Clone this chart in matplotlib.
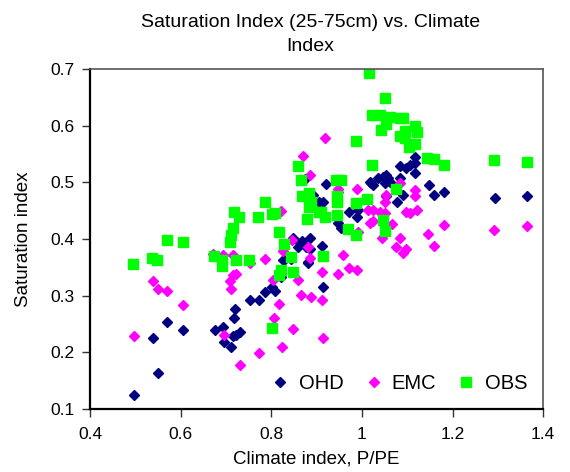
import matplotlib.pyplot as plt
import numpy as np

plt.rcParams['font.family'] = ['Liberation Sans', 'DejaVu Sans']

# OHD series (climate index, saturation index)
ohd_x = [0.497, 0.549, 0.539, 0.570, 0.606, 0.675, 0.694, 0.695, 0.710, 0.716,
         0.723, 0.730, 0.717, 0.720, 0.752, 0.773, 0.787, 0.802, 0.808, 0.822,
         0.827, 0.848, 0.863, 0.885, 0.885, 0.844, 0.880, 0.874, 0.892, 0.905,
         1.118, 1.083, 1.098, 1.105, 1.118, 1.116, 1.046, 1.053, 1.057, 1.050,
         1.061, 1.083, 1.017, 1.024, 0.920, 1.147, 1.160, 1.181, 1.293, 1.365,
         0.913, 1.090, 1.078, 0.971, 0.991, 0.989, 1.052, 0.947, 0.954, 0.868,
         0.877, 0.912, 0.881, 0.915, 1.020, 1.035, 0.859, 0.826]
ohd_y = [0.125, 0.163, 0.225, 0.253, 0.239, 0.239, 0.245, 0.219, 0.210, 0.228,
         0.231, 0.235, 0.261, 0.276, 0.292, 0.292, 0.307, 0.316, 0.309, 0.333,
         0.362, 0.401, 0.392, 0.401, 0.383, 0.364, 0.358, 0.505, 0.478, 0.466,
         0.544, 0.528, 0.525, 0.531, 0.534, 0.516, 0.510, 0.513, 0.507, 0.498,
         0.501, 0.507, 0.501, 0.495, 0.497, 0.496, 0.478, 0.483, 0.472, 0.475,
         0.466, 0.478, 0.466, 0.448, 0.451, 0.438, 0.475, 0.428, 0.419, 0.396,
         0.386, 0.387, 0.360, 0.315, 0.498, 0.507, 0.386, 0.363]

# EMC series
emc_x = [0.497, 0.539, 0.549, 0.570, 0.606, 0.695, 0.694, 0.716, 0.672, 0.716,
         0.723, 0.708, 0.710, 0.730, 0.773, 0.752, 0.787, 0.804, 0.818, 0.806,
         0.824, 0.848, 0.859, 0.866, 0.888, 0.846, 0.881, 0.885, 0.826, 0.870,
         0.885, 0.822, 0.919, 0.947, 0.947, 0.989, 1.053, 1.050, 1.083, 1.118,
         1.118, 1.013, 1.024, 1.039, 1.050, 1.098, 1.105, 1.121, 1.017, 1.024,
         1.067, 1.180, 1.292, 1.365, 1.045, 1.083, 1.145, 0.991, 1.075, 1.090,
         1.098, 1.160, 0.958, 0.912, 0.947, 0.971, 0.989, 0.912, 0.915]
emc_y = [0.228, 0.326, 0.312, 0.309, 0.284, 0.231, 0.372, 0.372, 0.373, 0.336,
         0.339, 0.325, 0.312, 0.178, 0.199, 0.358, 0.364, 0.328, 0.286, 0.260,
         0.209, 0.242, 0.328, 0.301, 0.298, 0.398, 0.386, 0.366, 0.378, 0.547,
         0.513, 0.449, 0.578, 0.489, 0.483, 0.488, 0.478, 0.466, 0.498, 0.487,
         0.476, 0.451, 0.451, 0.448, 0.445, 0.448, 0.445, 0.451, 0.428, 0.431,
         0.426, 0.425, 0.415, 0.422, 0.402, 0.402, 0.408, 0.413, 0.385, 0.375,
         0.382, 0.388, 0.371, 0.341, 0.338, 0.348, 0.345, 0.292, 0.226]

# OBS series
obs_x = [0.495, 0.536, 0.547, 0.569, 0.604, 0.673, 0.692, 0.691, 0.722, 0.750,
         0.708, 0.710, 0.716, 0.718, 0.729, 0.771, 0.785, 0.801, 0.808, 0.816,
         0.827, 0.844, 0.822, 0.818, 0.848, 0.802, 0.858, 0.866, 0.868, 0.883,
         0.887, 0.883, 0.879, 0.905, 1.015, 1.050, 1.023, 1.039, 1.061, 1.083,
         1.090, 1.052, 1.043, 1.116, 1.121, 1.083, 1.096, 1.094, 1.116, 1.103,
         0.987, 1.144, 1.158, 1.180, 1.291, 1.364, 1.023, 0.943, 0.954, 1.075,
         0.946, 0.946, 0.987, 1.012, 0.910, 0.918, 0.946, 1.046, 1.050, 0.970,
         0.987, 0.914]
obs_y = [0.355, 0.366, 0.363, 0.399, 0.394, 0.370, 0.363, 0.352, 0.363, 0.363,
         0.395, 0.407, 0.419, 0.448, 0.439, 0.439, 0.465, 0.444, 0.445, 0.412,
         0.391, 0.369, 0.345, 0.336, 0.341, 0.243, 0.529, 0.504, 0.476, 0.481,
         0.466, 0.457, 0.436, 0.448, 0.693, 0.649, 0.619, 0.619, 0.616, 0.613,
         0.613, 0.603, 0.592, 0.599, 0.588, 0.582, 0.591, 0.578, 0.568, 0.562,
         0.573, 0.542, 0.541, 0.531, 0.539, 0.536, 0.531, 0.504, 0.504, 0.489,
         0.475, 0.466, 0.464, 0.470, 0.448, 0.439, 0.442, 0.433, 0.414, 0.417,
         0.407, 0.370]

x_ticks = [0.4, 0.6, 0.8, 1.0, 1.2, 1.4]
x_labels = ['0.4', '0.6', '0.8', '1', '1.2', '1.4']
y_ticks = [0.1, 0.2, 0.3, 0.4, 0.5, 0.6, 0.7]

fig = plt.figure(figsize=(5.7, 4.72), dpi=100)
ax = fig.add_axes([0.158, 0.1335, 0.795, 0.7205])

ax.plot(ohd_x, ohd_y, 'D', color='#000080', ms=5.5, mec='#000080', label='OHD')
ax.plot(emc_x, emc_y, 'D', color='#FF00FF', ms=5.5, mec='#FF00FF', label='EMC')
ax.plot(obs_x, obs_y, 's', color='#00FF00', ms=6.5, mec='#00FF00', label='OBS')

ax.set_xlim(0.4, 1.4)
ax.set_ylim(0.1, 0.7)
ax.set_xticks(x_ticks)
ax.set_xticklabels(x_labels)
ax.set_yticks(y_ticks)
ax.set_yticklabels(['%.1f' % v for v in y_ticks])
ax.tick_params(direction='out', length=6, width=1, labelsize=12.5, color='#333333')
ax.tick_params(axis='x', pad=7)
ax.tick_params(axis='y', pad=5)

for s in ['left', 'bottom']:
    ax.spines[s].set_linewidth(1.6)
    ax.spines[s].set_color('black')
for s in ['top', 'right']:
    ax.spines[s].set_linewidth(1.2)
    ax.spines[s].set_color('#555555')

ax.set_xlabel('Climate index, P/PE', fontsize=13.5, labelpad=6)
ax.set_ylabel('Saturation index', fontsize=13.5, labelpad=13)

fig.text(0.545, 0.97, 'Saturation Index (25-75cm) vs. Climate\nIndex', ha='center',
         va='top', fontsize=14, linespacing=1.55)

ax.legend(loc='lower right', ncol=3, frameon=False, fontsize=14.5, handletextpad=0.4,
          columnspacing=1.0, borderaxespad=0.4, handlelength=1.0)

fig.savefig('out.png', dpi=100)
